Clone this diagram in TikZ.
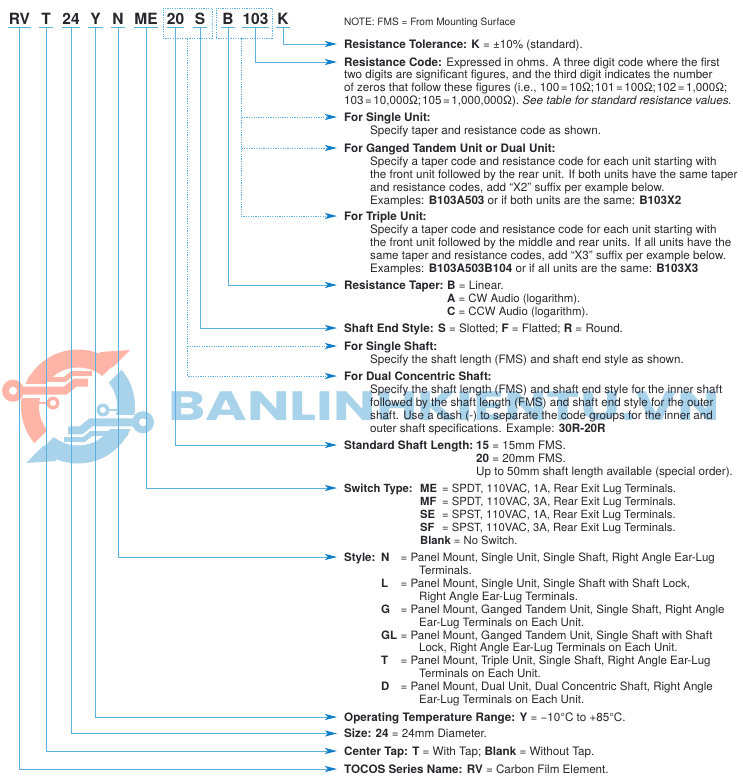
\documentclass[tikz,border=0pt]{standalone}
\usepackage{fontspec}
\setmainfont{TeX Gyre Heros}
\newfontfamily\markfont{Poppins}
\usetikzlibrary{arrows.meta}
\definecolor{leadblue}{HTML}{5CB0E0}
\definecolor{tipblue}{HTML}{0F7DC8}
\definecolor{inkdark}{HTML}{26262C}
\definecolor{marksalmon}{HTML}{FFB4A8}
\definecolor{markblue}{HTML}{A8D3EA}
\newcommand{\keybox}[2]{\makebox[#1pt][l]{\textbf{#2}}}
\newcommand{\eqs}{\kern1.5pt=\kern1.5pt}
\newcommand{\logohalf}[1]{
  \begin{scope}
    \clip (52,-58) -- (-45,38) -- (-80,38) -- (-80,-70) -- (52,-70) -- cycle;
    \fill[#1,even odd rule] (0,0) circle (57pt) (0,0) circle (39pt);
  \end{scope}
  \fill[#1] (52,-56.5) -- (22,-54.5) -- (17,-34.5) -- (35,-39.5) -- cycle;
  \draw[white,line width=14pt] (-70,-15.8) -- (-30,-15.8);
  \draw[#1,line width=8pt] (-65,-15.8) -- (-13,-15.8) -- (-3,-23.8) -- (10,-23.8);
  \draw[#1,line width=5pt] (-50,-27.2) -- (-13,-27.2) -- (-6,-33) -- (14,-33);
  \draw[#1,line width=2.5pt] (-39,-3.5) -- (-25,-3.5);
  \fill[#1] (-65,-15.8) circle (11pt);
  \fill[white] (-65,-15.8) circle (4pt);
  \fill[#1] (-25,-3.5) circle (6.5pt);
  \fill[white] (-25,-3.5) circle (3pt);
}
\tikzset{
  lead/.style={draw=leadblue,line width=0.9pt,-{Stealth[length=12pt,width=6pt,inset=3pt,color=tipblue]}},
  leaddot/.style={lead,dash pattern=on 1.2pt off 1.2pt},
  codeword/.style={inner sep=0pt,minimum height=17pt,text height=10.6pt,text depth=0pt,text=inkdark,font=\fontsize{15.5}{15.5}\selectfont\bfseries},
  codebox/.style={draw=leadblue,line width=0.9pt,dash pattern=on 1.2pt off 1.2pt,minimum height=30pt,inner sep=0pt},
  entry/.style={anchor=west,inner xsep=7pt,inner ysep=0pt,text height=8.2pt,text depth=0pt,text=inkdark,font=\fontsize{11.65}{12.9}\selectfont},
  block/.style={anchor=north west,inner sep=0pt,align=left,text=inkdark,font=\fontsize{11.65}{12.9}\selectfont},
  tightfont/.style={font=\fontsize{11.25}{12.9}\selectfont},
  stylefont/.style={font=\fontsize{11.5}{12.9}\selectfont},
}
\begin{document}
\begin{tikzpicture}[x=1pt,y=-1pt]
      \useasboundingbox (0,0) rectangle (743,780);

      \begin{scope}[shift={(78,406.5)}]
        \logohalf{marksalmon}
      \end{scope}
      \begin{scope}[shift={(78,406.5)},rotate=180]
        \logohalf{markblue}
      \end{scope}
      \node[anchor=west,inner sep=0pt,text=markblue,xscale=1.38,transform shape,font=\fontsize{41}{41}\selectfont\markfont\bfseries] (markText) at (168,406.5) {BANLINHKIENTU.VN};

      \foreach \cname/\ctext/\cx/\cw in {RV/RV/19.5/23,T/T/46/14,Size/24/71/16,Y/Y/95.5/15,N/N/118/14,ME/ME/146/24,
          Len/20/175.5/17,S/S/200/14,B/B/228/14,Res/103/255.5/25,K/K/283/14}{
        \node[codeword,minimum width=\cw pt] (code\cname) at (\cx,19) {\ctext};
        \draw[leadblue,line width=0.9pt] (code\cname.south west) -- (code\cname.south east);
      }
      \node[codebox,minimum width=49pt] (boxShaft) at (187.5,23) {};
      \node[codebox,minimum width=56pt] (boxTaper) at (244,23) {};

      \node[entry,font=\fontsize{10.1}{12.9}\selectfont] (note) at (337,21) {NOTE: FMS = From Mounting Surface};
      \node[entry] (tolerance) at (337,44) {\textbf{Resistance Tolerance: K} = ±10\% (standard).};
      \node[entry] (rescode) at (337,62) {\textbf{Resistance Code:} Expressed in ohms. A three digit code where the first};
      \node[block] (rescodeText) at (344,70) {two digits are significant figures, and the third digit indicates the number\\
        of zeros that follow these figures (i.e., 100\eqs 10Ω;\kern1pt 101\eqs 100Ω;\kern1pt 102\eqs 1,000Ω;\\
        103\eqs 10,000Ω;\kern1pt 105\eqs 1,000,000Ω). \textit{See table for standard resistance values.}};
      \node[entry] (singleunit) at (337,117) {\textbf{For Single Unit:}};
      \node[block] (singleunitText) at (370,126) {Specify taper and resistance code as shown.};
      \node[entry] (gangedunit) at (337,148) {\textbf{For Ganged Tandem Unit or Dual Unit:}};
      \node[block] (gangedunitText) at (370,157) {Specify a taper code and resistance code for each unit starting with\\
        the front unit followed by the rear unit. If both units have the same taper\\
        and resistance codes, add “X2” suffix per example below.\\
        Examples: \textbf{B103A503} or if both units are the same: \textbf{B103X2}};
      \node[entry] (tripleunit) at (337,216) {\textbf{For Triple Unit:}};
      \node[block] (tripleunitText) at (370,225) {Specify a taper code and resistance code for each unit starting with\\
        the front unit followed by the middle and rear units. If all units have the\\
        same taper and resistance codes, add “X3” suffix per example below.\\
        Examples: \textbf{B103A503B104} or if all units are the same: \textbf{B103X3}};
      \node[entry] (taper) at (337,285) {\keybox{103}{Resistance Taper:}\textbf{B} = Linear.};
      \node[block,font=\fontsize{11.4}{12.9}\selectfont] (taperText) at (447,294) {\textbf{A} = CW Audio (logarithm).\\\textbf{C} = CCW Audio (logarithm).};
      \node[entry] (shaftend) at (337,328) {\textbf{Shaft End Style: S} = Slotted; \textbf{F} = Flatted; \textbf{R} = Round.};
      \node[entry] (singleshaft) at (337,346) {\textbf{For Single Shaft:}};
      \node[block] (singleshaftText) at (370,355) {Specify the shaft length (FMS) and shaft end style as shown.};
      \node[entry] (dualshaft) at (337,376) {\textbf{For Dual Concentric Shaft:}};
      \node[block] (dualshaftText) at (370,385) {Specify the shaft length (FMS) and shaft end style for the inner shaft\\
        followed by the shaft length (FMS) and shaft end style for the outer\\
        shaft. Use a dash (-) to separate the code groups for the inner and\\
        outer shaft specifications. Example: \textbf{30R-20R}};
      \node[entry] (shaftlen) at (337,445) {\keybox{132}{Standard Shaft Length:}\textbf{15} = 15mm FMS.};
      \node[block] (shaftlenText) at (476,454) {\textbf{20} = 20mm FMS.\\Up to 50mm shaft length available (special order).};
      \node[entry,tightfont] (switch) at (337,488) {\keybox{76}{Switch Type:}\keybox{22}{ME}= SPDT, 110VAC, 1A, Rear Exit Lug Terminals.};
      \node[block,tightfont] (switchText) at (420,497) {\keybox{22}{MF}= SPDT, 110VAC, 3A, Rear Exit Lug Terminals.\\
        \keybox{22}{SE}= SPST, 110VAC, 1A, Rear Exit Lug Terminals.\\
        \keybox{22}{SF}= SPST, 110VAC, 3A, Rear Exit Lug Terminals.\\
        \textbf{Blank} = No Switch.};
      \node[entry,stylefont] (style) at (337,557) {\keybox{37}{Style:}\keybox{19.5}{N}= Panel Mount, Single Unit, Single Shaft, Right Angle Ear-Lug};
      \node[block,stylefont] (styleText) at (381,566) {\hspace*{38pt}Terminals.\\
        \keybox{19.5}{L}= Panel Mount, Single Unit, Single Shaft with Shaft Lock,\\
        \hspace*{38pt}Right Angle Ear-Lug Terminals.\\
        \keybox{19.5}{G}= Panel Mount, Ganged Tandem Unit, Single Shaft, Right Angle\\
        \hspace*{38pt}Ear-Lug Terminals on Each Unit.\\
        \keybox{19.5}{GL}= Panel Mount, Ganged Tandem Unit, Single Shaft with Shaft\\
        \hspace*{38pt}Lock, Right Angle Ear-Lug Terminals on Each Unit.\\
        \keybox{19.5}{T}= Panel Mount, Triple Unit, Single Shaft, Right Angle Ear-Lug\\
        \hspace*{38pt}Terminals on Each Unit.\\
        \keybox{19.5}{D}= Panel Mount, Dual Unit, Dual Concentric Shaft, Right Angle\\
        \hspace*{38pt}Ear-Lug Terminals on Each Unit.};
      \node[entry] (optemp) at (337,717) {\textbf{Operating Temperature Range: Y} = −10°C to +85°C.};
      \node[entry] (size) at (337,733.5) {\textbf{Size: 24} = 24mm Diameter.};
      \node[entry] (centertap) at (337,751) {\textbf{Center Tap: T} = With Tap; \textbf{Blank} = Without Tap.};
      \node[entry] (series) at (337,769) {\textbf{TOCOS Series Name: RV} = Carbon Film Element.};

      \draw[lead] (codeK.south) |- (tolerance.west);
      \draw[lead] (codeRes.south) |- (rescode.west);
      \draw[leaddot] ([xshift=-3pt]boxTaper.south) |- (singleunit.west);
      \draw[leaddot] ([xshift=-3pt]boxTaper.south) |- (gangedunit.west);
      \draw[leaddot] ([xshift=-3pt]boxTaper.south) |- (tripleunit.west);
      \draw[lead] (codeB.south) |- (taper.west);
      \draw[lead] (codeS.south) |- (shaftend.west);
      \draw[leaddot] (boxShaft.south) |- (singleshaft.west);
      \draw[leaddot] (boxShaft.south) |- (dualshaft.west);
      \draw[lead] (codeLen.south) |- (shaftlen.west);
      \draw[lead] (codeME.south) |- (switch.west);
      \draw[lead] (codeN.south) |- (style.west);
      \draw[lead] (codeY.south) |- (optemp.west);
      \draw[lead] (codeSize.south) |- (size.west);
      \draw[lead] (codeT.south) |- (centertap.west);
      \draw[lead] (codeRV.south) |- (series.west);
\end{tikzpicture}
\end{document}
